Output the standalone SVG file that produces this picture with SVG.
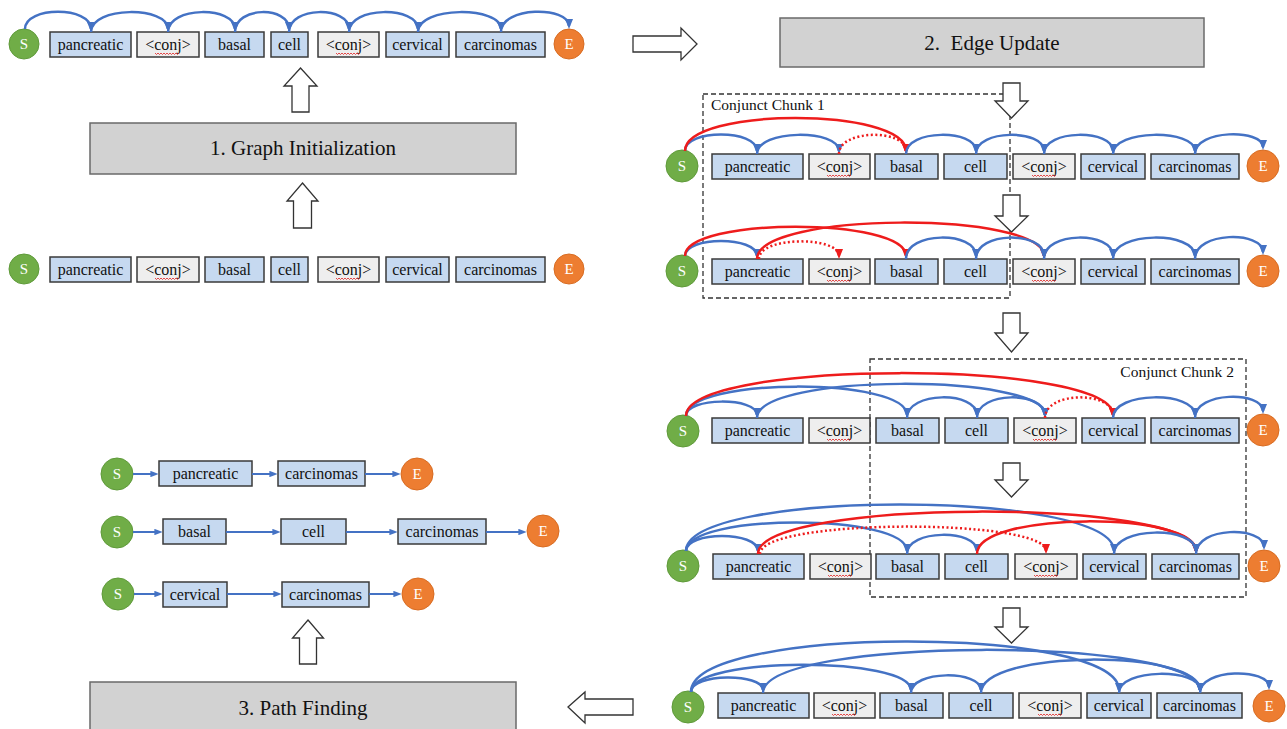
<svg xmlns="http://www.w3.org/2000/svg" xmlns:xlink="http://www.w3.org/1999/xlink" width="1287" height="729" viewBox="0 0 1287 729">
<style>
.w{fill:#c6d9f0;stroke:#3a3a3a;stroke-width:1.5}
.c{fill:#eeeeee;stroke:#3a3a3a;stroke-width:1.5}
.t{font-family:"Liberation Serif","Times New Roman",serif;font-size:16px;text-anchor:middle;fill:#111}
.ct{font-family:"Liberation Serif","Times New Roman",serif;font-size:15px;text-anchor:middle;fill:#fff}
.sc{fill:#70ad47;stroke:#5f9a3a;stroke-width:1}
.ec{fill:#ed7d31;stroke:#d86c22;stroke-width:1}
.g{fill:#d2d2d2;stroke:#6a6a6a;stroke-width:1.5}
.gt{font-family:"Liberation Serif","Times New Roman",serif;font-size:21px;text-anchor:middle;fill:#111;white-space:pre}
.ba{fill:#fff;stroke:#333;stroke-width:1.3}
.dash{fill:none;stroke:#333;stroke-width:1.3;stroke-dasharray:5 3}
.lab{font-family:"Liberation Serif","Times New Roman",serif;font-size:15.5px;fill:#111}
.b{fill:none;stroke:#4472c4;stroke-width:2.5;marker-end:url(#ab)}
.r{fill:none;stroke:#ee1c1c;stroke-width:2.5;marker-end:url(#ar)}
.rd{fill:none;stroke:#ee1c1c;stroke-width:2.5;stroke-dasharray:2 2.5;marker-end:url(#ar)}
.sl{fill:none;stroke:#4472c4;stroke-width:2;marker-end:url(#as)}
.wv{fill:none;stroke:#e02020;stroke-width:0.8}
</style>
<defs>
<marker id="ab" viewBox="0 0 10 8" markerWidth="10" markerHeight="8" refX="7" refY="4" orient="auto" markerUnits="userSpaceOnUse"><path d="M0,0 L10,4 L0,8 z" fill="#4472c4"/></marker>
<marker id="ar" viewBox="0 0 10 8" markerWidth="10" markerHeight="8" refX="7" refY="4" orient="auto" markerUnits="userSpaceOnUse"><path d="M0,0 L10,4 L0,8 z" fill="#ee1c1c"/></marker>
<marker id="as" viewBox="0 0 10 8" markerWidth="8" markerHeight="6.4" refX="7" refY="4" orient="auto" markerUnits="userSpaceOnUse"><path d="M0,0 L10,4 L0,8 z" fill="#4472c4"/></marker>
<path id="wave" class="wv" d="M0,0 l1.5,1.5 l1.5,-1.5 l1.5,1.5 l1.5,-1.5 l1.5,1.5 l1.5,-1.5 l1.5,1.5 l1.5,-1.5 l1.5,1.5 l1.5,-1.5 l1.5,1.5 l1.5,-1.5 l1.5,1.5 l1.5,-1.5 l1.5,1.5 l1.5,-1.5"/>
</defs>

<!-- stage boxes -->
<g id="stage1"><rect class="g" x="90" y="123" width="426" height="51"/><text class="gt" x="303" y="155">1. Graph Initialization</text></g>
<g id="stage2"><rect class="g" x="780" y="18" width="424" height="49"/><text class="gt" x="992" y="50">2.  Edge Update</text></g>
<g id="stage3"><rect class="g" x="90" y="682" width="426" height="60"/><text class="gt" x="303" y="715">3. Path Finding</text></g>

<!-- block arrows -->
<g id="block-arrows">
<path class="ba" d="M300.5,68 L317,86 L309,86 L309,112 L292,112 L292,86 L284,86 Z"/>
<path class="ba" d="M302.5,183 L318,201 L311.5,201 L311.5,228 L293.5,228 L293.5,201 L287,201 Z"/>
<path class="ba" d="M308,620 L323.5,638 L316.5,638 L316.5,664 L299.5,664 L299.5,638 L292.5,638 Z"/>
<path class="ba" d="M633,36 L681,36 L681,28 L697,44 L681,60 L681,52 L633,52 Z"/>
<path class="ba" d="M568,707 L585,692 L585,699 L633,699 L633,715 L585,715 L585,723 Z"/>
</g>

<!-- conjunct chunks -->
<g id="chunk1"><rect class="dash" x="703" y="94" width="307" height="204"/><text class="lab" x="711" y="110">Conjunct Chunk 1</text></g>
<g id="chunk2"><rect class="dash" x="870" y="359" width="376" height="238"/><text class="lab" x="1234" y="377" text-anchor="end">Conjunct Chunk 2</text></g>

<g id="down-arrows">
<path class="ba" d="M1003,83 L1020,83 L1020,101 L1028,101 L1011.5,118 L995,101 L1003,101 Z"/>
<path class="ba" d="M1003,195 L1020,195 L1020,216 L1028,216 L1011.5,232 L995,216 L1003,216 Z"/>
<path class="ba" d="M1003,313 L1020,313 L1020,333 L1028,333 L1011.5,352 L995,333 L1003,333 Z"/>
<path class="ba" d="M1003,463 L1020,463 L1020,480 L1028,480 L1011.5,497 L995,480 L1003,480 Z"/>
<path class="ba" d="M1003,608 L1020,608 L1020,627 L1028,627 L1011.5,643 L995,627 L1003,627 Z"/>
</g>

<!-- ROW 1 (top left) -->
<g id="r1-S"><circle class="sc" cx="24" cy="44" r="15"/><text class="ct" x="24" y="49">S</text></g>
<g id="r1-pancreatic"><rect class="w" x="50" y="32" width="81" height="25"/><text class="t" x="90.5" y="50">pancreatic</text></g>
<g id="r1-conj1"><rect class="c" x="137" y="32" width="62" height="25"/><text class="t" x="168" y="50">&lt;conj&gt;</text><use xlink:href="#wave" x="155" y="53"/></g>
<g id="r1-basal"><rect class="w" x="205" y="32" width="59" height="25"/><text class="t" x="234.5" y="50">basal</text></g>
<g id="r1-cell"><rect class="w" x="271" y="32" width="37" height="25"/><text class="t" x="289.5" y="50">cell</text></g>
<g id="r1-conj2"><rect class="c" x="318" y="32" width="61" height="25"/><text class="t" x="348.5" y="50">&lt;conj&gt;</text><use xlink:href="#wave" x="336" y="53"/></g>
<g id="r1-cervical"><rect class="w" x="386" y="32" width="63" height="25"/><text class="t" x="417.5" y="50">cervical</text></g>
<g id="r1-carcinomas"><rect class="w" x="456" y="32" width="89" height="25"/><text class="t" x="500.5" y="50">carcinomas</text></g>
<g id="r1-E"><circle class="ec" cx="569" cy="44" r="15"/><text class="ct" x="569" y="49">E</text></g>

<!-- ROW 2 -->
<g id="r2-S"><circle class="sc" cx="24" cy="269" r="15"/><text class="ct" x="24" y="274">S</text></g>
<g id="r2-pancreatic"><rect class="w" x="50" y="257" width="81" height="25"/><text class="t" x="90.5" y="275">pancreatic</text></g>
<g id="r2-conj1"><rect class="c" x="137" y="257" width="62" height="25"/><text class="t" x="168" y="275">&lt;conj&gt;</text><use xlink:href="#wave" x="155" y="278"/></g>
<g id="r2-basal"><rect class="w" x="205" y="257" width="59" height="25"/><text class="t" x="234.5" y="275">basal</text></g>
<g id="r2-cell"><rect class="w" x="271" y="257" width="37" height="25"/><text class="t" x="289.5" y="275">cell</text></g>
<g id="r2-conj2"><rect class="c" x="318" y="257" width="61" height="25"/><text class="t" x="348.5" y="275">&lt;conj&gt;</text><use xlink:href="#wave" x="336" y="278"/></g>
<g id="r2-cervical"><rect class="w" x="386" y="257" width="63" height="25"/><text class="t" x="417.5" y="275">cervical</text></g>
<g id="r2-carcinomas"><rect class="w" x="456" y="257" width="89" height="25"/><text class="t" x="500.5" y="275">carcinomas</text></g>
<g id="r2-E"><circle class="ec" cx="569" cy="269" r="15"/><text class="ct" x="569" y="274">E</text></g>

<!-- ROW A -->
<g id="ra-S"><circle class="sc" cx="682" cy="166" r="16"/><text class="ct" x="682" y="171">S</text></g>
<g id="ra-pancreatic"><rect class="w" x="712" y="154" width="91" height="25"/><text class="t" x="757.5" y="172">pancreatic</text></g>
<g id="ra-conj1"><rect class="c" x="809" y="154" width="61" height="25"/><text class="t" x="839.5" y="172">&lt;conj&gt;</text><use xlink:href="#wave" x="827" y="175"/></g>
<g id="ra-basal"><rect class="w" x="875" y="154" width="63" height="25"/><text class="t" x="906.5" y="172">basal</text></g>
<g id="ra-cell"><rect class="w" x="944" y="154" width="63" height="25"/><text class="t" x="975.5" y="172">cell</text></g>
<g id="ra-conj2"><rect class="c" x="1013" y="154" width="62" height="25"/><text class="t" x="1044" y="172">&lt;conj&gt;</text><use xlink:href="#wave" x="1032" y="175"/></g>
<g id="ra-cervical"><rect class="w" x="1081" y="154" width="64" height="25"/><text class="t" x="1113" y="172">cervical</text></g>
<g id="ra-carcinomas"><rect class="w" x="1151" y="154" width="88" height="25"/><text class="t" x="1195" y="172">carcinomas</text></g>
<g id="ra-E"><circle class="ec" cx="1263" cy="166" r="16"/><text class="ct" x="1263" y="171">E</text></g>

<!-- ROW B -->
<g id="rb-S"><circle class="sc" cx="682" cy="271" r="16"/><text class="ct" x="682" y="276">S</text></g>
<g id="rb-pancreatic"><rect class="w" x="712" y="259" width="91" height="25"/><text class="t" x="757.5" y="277">pancreatic</text></g>
<g id="rb-conj1"><rect class="c" x="809" y="259" width="61" height="25"/><text class="t" x="839.5" y="277">&lt;conj&gt;</text><use xlink:href="#wave" x="827" y="280"/></g>
<g id="rb-basal"><rect class="w" x="875" y="259" width="63" height="25"/><text class="t" x="906.5" y="277">basal</text></g>
<g id="rb-cell"><rect class="w" x="944" y="259" width="63" height="25"/><text class="t" x="975.5" y="277">cell</text></g>
<g id="rb-conj2"><rect class="c" x="1013" y="259" width="62" height="25"/><text class="t" x="1044" y="277">&lt;conj&gt;</text><use xlink:href="#wave" x="1032" y="280"/></g>
<g id="rb-cervical"><rect class="w" x="1081" y="259" width="64" height="25"/><text class="t" x="1113" y="277">cervical</text></g>
<g id="rb-carcinomas"><rect class="w" x="1151" y="259" width="88" height="25"/><text class="t" x="1195" y="277">carcinomas</text></g>
<g id="rb-E"><circle class="ec" cx="1263" cy="271" r="16"/><text class="ct" x="1263" y="276">E</text></g>

<!-- ROW C -->
<g id="rc-S"><circle class="sc" cx="683" cy="431" r="16"/><text class="ct" x="683" y="436">S</text></g>
<g id="rc-pancreatic"><rect class="w" x="712" y="418" width="91" height="25"/><text class="t" x="757.5" y="436">pancreatic</text></g>
<g id="rc-conj1"><rect class="c" x="809" y="418" width="61" height="25"/><text class="t" x="839.5" y="436">&lt;conj&gt;</text><use xlink:href="#wave" x="827" y="439"/></g>
<g id="rc-basal"><rect class="w" x="876" y="418" width="63" height="25"/><text class="t" x="907.5" y="436">basal</text></g>
<g id="rc-cell"><rect class="w" x="945" y="418" width="63" height="25"/><text class="t" x="976.5" y="436">cell</text></g>
<g id="rc-conj2"><rect class="c" x="1014" y="418" width="62" height="25"/><text class="t" x="1045" y="436">&lt;conj&gt;</text><use xlink:href="#wave" x="1033" y="439"/></g>
<g id="rc-cervical"><rect class="w" x="1082" y="418" width="63" height="25"/><text class="t" x="1113.5" y="436">cervical</text></g>
<g id="rc-carcinomas"><rect class="w" x="1151" y="418" width="88" height="25"/><text class="t" x="1195" y="436">carcinomas</text></g>
<g id="rc-E"><circle class="ec" cx="1263" cy="430" r="16"/><text class="ct" x="1263" y="435">E</text></g>

<!-- ROW D -->
<g id="rd-S"><circle class="sc" cx="683" cy="566" r="16"/><text class="ct" x="683" y="571">S</text></g>
<g id="rd-pancreatic"><rect class="w" x="713" y="554" width="91" height="25"/><text class="t" x="758.5" y="572">pancreatic</text></g>
<g id="rd-conj1"><rect class="c" x="810" y="554" width="61" height="25"/><text class="t" x="840.5" y="572">&lt;conj&gt;</text><use xlink:href="#wave" x="828" y="575"/></g>
<g id="rd-basal"><rect class="w" x="876" y="554" width="63" height="25"/><text class="t" x="907.5" y="572">basal</text></g>
<g id="rd-cell"><rect class="w" x="945" y="554" width="63" height="25"/><text class="t" x="976.5" y="572">cell</text></g>
<g id="rd-conj2"><rect class="c" x="1015" y="554" width="62" height="25"/><text class="t" x="1046" y="572">&lt;conj&gt;</text><use xlink:href="#wave" x="1034" y="575"/></g>
<g id="rd-cervical"><rect class="w" x="1083" y="554" width="63" height="25"/><text class="t" x="1114.5" y="572">cervical</text></g>
<g id="rd-carcinomas"><rect class="w" x="1152" y="554" width="87" height="25"/><text class="t" x="1195.5" y="572">carcinomas</text></g>
<g id="rd-E"><circle class="ec" cx="1264" cy="566" r="16"/><text class="ct" x="1264" y="571">E</text></g>

<!-- ROW E -->
<g id="re-S"><circle class="sc" cx="688" cy="707" r="16"/><text class="ct" x="688" y="712">S</text></g>
<g id="re-pancreatic"><rect class="w" x="718" y="693" width="91" height="25"/><text class="t" x="763.5" y="711">pancreatic</text></g>
<g id="re-conj1"><rect class="c" x="814" y="693" width="61" height="25"/><text class="t" x="844.5" y="711">&lt;conj&gt;</text><use xlink:href="#wave" x="832" y="714"/></g>
<g id="re-basal"><rect class="w" x="880" y="693" width="63" height="25"/><text class="t" x="911.5" y="711">basal</text></g>
<g id="re-cell"><rect class="w" x="949" y="693" width="64" height="25"/><text class="t" x="981" y="711">cell</text></g>
<g id="re-conj2"><rect class="c" x="1019" y="693" width="62" height="25"/><text class="t" x="1050" y="711">&lt;conj&gt;</text><use xlink:href="#wave" x="1038" y="714"/></g>
<g id="re-cervical"><rect class="w" x="1087" y="693" width="64" height="25"/><text class="t" x="1119" y="711">cervical</text></g>
<g id="re-carcinomas"><rect class="w" x="1157" y="693" width="85" height="25"/><text class="t" x="1199.5" y="711">carcinomas</text></g>
<g id="re-E"><circle class="ec" cx="1269" cy="706" r="16"/><text class="ct" x="1269" y="711">E</text></g>

<!-- PATHS (bottom left) -->
<g id="p1-S"><circle class="sc" cx="117" cy="474" r="16"/><text class="ct" x="117" y="479">S</text></g>
<g id="p1-pancreatic"><rect class="w" x="159" y="461" width="93" height="25"/><text class="t" x="205.5" y="479">pancreatic</text></g>
<g id="p1-carcinomas"><rect class="w" x="278" y="461" width="87" height="25"/><text class="t" x="321.5" y="479">carcinomas</text></g>
<g id="p1-E"><circle class="ec" cx="417" cy="474" r="16"/><text class="ct" x="417" y="479">E</text></g>

<g id="p2-S"><circle class="sc" cx="117" cy="532" r="16"/><text class="ct" x="117" y="537">S</text></g>
<g id="p2-basal"><rect class="w" x="163" y="519" width="63" height="25"/><text class="t" x="194.5" y="537">basal</text></g>
<g id="p2-cell"><rect class="w" x="281" y="519" width="65" height="25"/><text class="t" x="313.5" y="537">cell</text></g>
<g id="p2-carcinomas"><rect class="w" x="398" y="519" width="88" height="25"/><text class="t" x="442" y="537">carcinomas</text></g>
<g id="p2-E"><circle class="ec" cx="543" cy="531" r="16"/><text class="ct" x="543" y="536">E</text></g>

<g id="p3-S"><circle class="sc" cx="118" cy="594" r="16"/><text class="ct" x="118" y="599">S</text></g>
<g id="p3-cervical"><rect class="w" x="163" y="582" width="64" height="25"/><text class="t" x="195" y="600">cervical</text></g>
<g id="p3-carcinomas"><rect class="w" x="282" y="582" width="87" height="25"/><text class="t" x="325.5" y="600">carcinomas</text></g>
<g id="p3-E"><circle class="ec" cx="418" cy="594" r="16"/><text class="ct" x="418" y="599">E</text></g>

<!-- CONNECTORS -->
<g id="connectors">
<!-- row 1 -->
<path class="b" d="M25,29 C25,6 91,6 91,29"/>
<path class="b" d="M91,32 C91,6 168,6 168,29"/>
<path class="b" d="M168,32 C168,6 235,6 235,29"/>
<path class="b" d="M235,32 C235,6 289,6 289,29"/>
<path class="b" d="M289,32 C289,6 349,6 349,29"/>
<path class="b" d="M349,32 C349,6 418,6 418,29"/>
<path class="b" d="M418,32 C418,6 501,6 501,29"/>
<path class="b" d="M501,32 C501,6 569,6 569,26"/>
<!-- row A -->
<path class="b" d="M685,151 C685,129 757,129 757,151"/>
<path class="b" d="M757,154 C757,129 839,129 839,151"/>
<path class="rd" d="M839,154 C839,129 906,129 906,151"/>
<path class="r" d="M685,151 C685,107 906,107 906,151"/>
<path class="b" d="M906,154 C906,129 976,129 976,151"/>
<path class="b" d="M976,154 C976,129 1044,129 1044,151"/>
<path class="b" d="M1044,154 C1044,129 1113,129 1113,151"/>
<path class="b" d="M1113,154 C1113,129 1195,129 1195,151"/>
<path class="b" d="M1195,154 C1195,129 1263,129 1263,147"/>
<!-- row B -->
<path class="b" d="M685,256 C685,236 757,236 757,256"/>
<path class="r" d="M685,256 C685,217 906,217 906,256"/>
<path class="r" d="M757,259 C757,211 1044,211 1044,256"/>
<path class="rd" d="M759,259 C759,236 839,236 839,256"/>
<path class="b" d="M906,259 C906,231 976,231 976,256"/>
<path class="b" d="M976,259 C976,231 1044,231 1044,256"/>
<path class="b" d="M1044,259 C1044,231 1113,231 1113,256"/>
<path class="b" d="M1113,259 C1113,231 1195,231 1195,256"/>
<path class="b" d="M1195,259 C1195,231 1263,231 1263,252"/>
<!-- row C -->
<path class="b" d="M686,416 C686,397 757,397 757,415"/>
<path class="b" d="M686,416 C686,377 907,377 907,415"/>
<path class="b" d="M757,418 C757,373 1045,373 1045,415"/>
<path class="r" d="M686,416 C686,359 1113,359 1113,415"/>
<path class="b" d="M907,418 C907,391 977,391 977,415"/>
<path class="b" d="M977,418 C977,391 1045,391 1045,415"/>
<path class="rd" d="M1045,418 C1045,391 1113,391 1113,415"/>
<path class="b" d="M1113,418 C1113,391 1195,391 1195,415"/>
<path class="b" d="M1195,418 C1195,391 1263,391 1263,411"/>
<!-- row D -->
<path class="b" d="M686,551 C686,531 758,531 758,551"/>
<path class="b" d="M686,551 C686,513 907,513 907,551"/>
<path class="b" d="M686,551 C686,489 1114,489 1114,551"/>
<path class="r" d="M758,554 C758,498 1196,498 1196,551"/>
<path class="rd" d="M760,554 C760,518 1046,518 1046,551"/>
<path class="b" d="M907,554 C907,529 977,529 977,551"/>
<path class="r" d="M977,554 C977,511 1196,511 1196,551"/>
<path class="b" d="M1114,554 C1114,526 1196,526 1196,551"/>
<path class="b" d="M1196,554 C1196,526 1264,526 1264,547"/>
<!-- row E -->
<path class="b" d="M691,692 C691,673 763,673 763,690"/>
<path class="b" d="M691,692 C691,656 911,656 911,690"/>
<path class="b" d="M691,692 C691,625 1119,625 1119,690"/>
<path class="b" d="M763,693 C763,636 1200,636 1200,690"/>
<path class="b" d="M911,693 C911,670 981,670 981,690"/>
<path class="b" d="M981,693 C981,649 1200,649 1200,690"/>
<path class="b" d="M1119,693 C1119,668 1200,668 1200,690"/>
<path class="b" d="M1200,693 C1200,668 1269,668 1269,687"/>
<!-- paths -->
<path class="sl" d="M133,474 L156,474"/>
<path class="sl" d="M252,474 L275,474"/>
<path class="sl" d="M365,474 L398,474"/>
<path class="sl" d="M133,532 L160,532"/>
<path class="sl" d="M226,532 L278,532"/>
<path class="sl" d="M346,532 L395,532"/>
<path class="sl" d="M486,532 L524,532"/>
<path class="sl" d="M134,594 L160,594"/>
<path class="sl" d="M227,594 L279,594"/>
<path class="sl" d="M369,594 L399,594"/>
</g>
</svg>
